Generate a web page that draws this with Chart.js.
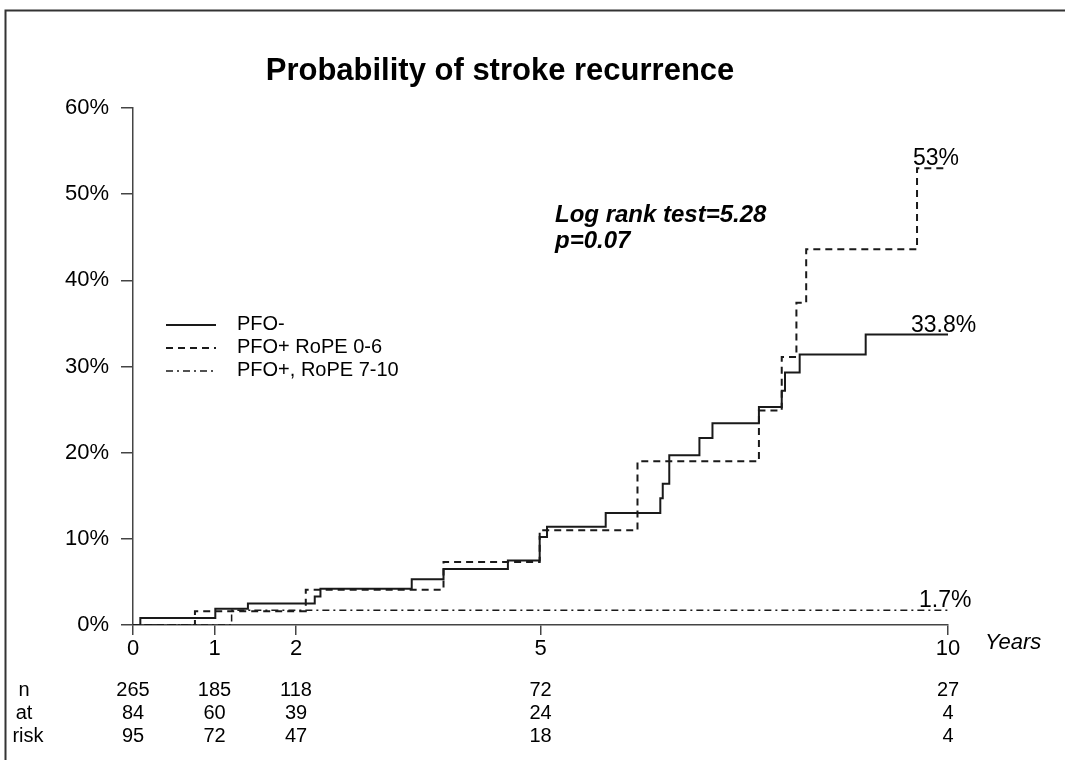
<!DOCTYPE html>
<html>
<head>
<meta charset="utf-8">
<title>Probability of stroke recurrence</title>
<script src="https://cdn.jsdelivr.net/npm/chart.js@4.4.1/dist/chart.umd.min.js"></script>
<style>
  html, body { margin: 0; padding: 0; background: #fff; }
  #wrap { width: 1065px; height: 760px; }
</style>
</head>
<body>
<div id="wrap"><canvas id="chart" width="1065" height="760"></canvas></div>
<script>
// Kaplan-Meier steps: year of each step and cumulative % after it
const pfoNegYears  = [0, 0.09, 1.01, 1.41, 2.23, 2.30, 3.42, 3.81, 4.60, 4.99, 5.08, 5.80, 6.47, 6.50, 6.58, 6.95, 7.11, 7.68, 7.96, 8.00, 8.18, 8.99, 10];
const pfoNegValues = [0, 0.8, 1.9, 2.5, 3.3, 4.2, 5.3, 6.5, 7.5, 10.2, 11.4, 13.0, 14.7, 16.4, 19.7, 21.7, 23.4, 25.3, 27.2, 29.3, 31.4, 33.7, 33.7];

const rope06Years  = [0, 0.76, 2.12, 3.81, 4.99, 6.19, 7.68, 7.96, 8.14, 8.26, 9.62, 10];
const rope06Values = [0, 1.6, 4.1, 7.3, 11.0, 19.0, 24.9, 31.1, 37.4, 43.6, 53.0, 53.0];

const rope710Years  = [0, 1.21, 10];
const rope710Values = [0, 1.7, 1.7];

const seriesNames = ['PFO-', 'PFO+ RoPE 0-6', 'PFO+, RoPE 7-10'];
const endLabels = ['33.8%', '53%', '1.7%'];

const xTicks = [0, 1, 2, 5, 10];
const yTicks = [0, 10, 20, 30, 40, 50, 60];

// numbers at risk, one row per group
const riskRowLabels = ['n', 'at', 'risk'];
const riskYears = [0, 1, 2, 5, 10];
const riskPfoNeg  = [265, 185, 118, 72, 27];
const riskRope06  = [84, 60, 39, 24, 4];
const riskRope710 = [95, 72, 47, 18, 4];

const ink = '#1a1a1a';
const axisColor = '#444';
const font = 'Liberation Sans, Arial, Helvetica, sans-serif';

function toPoints(xs, ys) {
  return xs.map((x, i) => ({ x: x, y: ys[i] }));
}

const extras = {
  id: 'extras',
  afterDraw(chart) {
    const ctx = chart.ctx;
    const xs = chart.scales.x;
    const ys = chart.scales.y;
    ctx.save();

    // frame
    ctx.strokeStyle = '#333';
    ctx.lineWidth = 2;
    ctx.beginPath();
    ctx.moveTo(1065, 10.5);
    ctx.lineTo(5.5, 10.5);
    ctx.lineTo(5.5, 760);
    ctx.stroke();

    // title
    ctx.fillStyle = '#000';
    ctx.textAlign = 'center';
    ctx.textBaseline = 'middle';
    ctx.font = 'bold 31px ' + font;
    ctx.fillText('Probability of stroke recurrence', 500, 71);

    // log rank annotation
    ctx.textAlign = 'left';
    ctx.font = 'italic bold 24px ' + font;
    ctx.fillText('Log rank test=5.28', 555, 215);
    ctx.fillText('p=0.07', 555, 241);

    // legend
    ctx.font = '20px ' + font;
    chart.data.datasets.forEach((ds, i) => {
      const y = 325 + i * 23;
      ctx.strokeStyle = ds.borderColor;
      ctx.lineWidth = ds.borderWidth;
      ctx.setLineDash(ds.borderDash || []);
      ctx.beginPath();
      ctx.moveTo(166, y);
      ctx.lineTo(216, y);
      ctx.stroke();
      ctx.setLineDash([]);
      ctx.fillStyle = '#000';
      ctx.fillText(ds.label, 237, y - 1);
    });

    // end-of-curve labels
    ctx.font = '23px ' + font;
    ctx.textAlign = 'left';
    ctx.textBaseline = 'alphabetic';
    const endY = [pfoNegValues, rope06Values, rope710Values].map(v => v[v.length - 1]);
    const endX = [911, 913, 919];
    endLabels.forEach((t, i) => {
      ctx.fillText(t, endX[i], ys.getPixelForValue(endY[i]) - 3);
    });

    // x axis title
    ctx.font = 'italic 22px ' + font;
    ctx.textBaseline = 'middle';
    ctx.fillText('Years', 985, 643);

    // numbers at risk
    ctx.font = '20px ' + font;
    ctx.textAlign = 'center';
    const rows = [riskPfoNeg, riskRope06, riskRope710];
    rows.forEach((row, r) => {
      const y = 690 + r * 23;
      ctx.fillText(riskRowLabels[r], r === 2 ? 28 : 24, y);
      row.forEach((v, i) => {
        ctx.fillText(String(v), xs.getPixelForValue(riskYears[i]), y);
      });
    });

    ctx.restore();
  }
};

const ctx = document.getElementById('chart').getContext('2d');
new Chart(ctx, {
  type: 'line',
  data: {
    datasets: [
      {
        label: seriesNames[0],
        data: toPoints(pfoNegYears, pfoNegValues),
        borderColor: ink, borderWidth: 2, stepped: 'before'
      },
      {
        label: seriesNames[1],
        data: toPoints(rope06Years, rope06Values),
        borderColor: ink, borderWidth: 2, borderDash: [7, 5], stepped: 'before'
      },
      {
        label: seriesNames[2],
        data: toPoints(rope710Years, rope710Values),
        borderColor: ink, borderWidth: 1.5, borderDash: [7, 4, 2, 4], stepped: 'before'
      }
    ]
  },
  options: {
    responsive: false,
    animation: false,
    devicePixelRatio: 1,
    layout: { padding: { left: 0, right: 117, top: 108, bottom: 0 } },
    elements: { point: { radius: 0 } },
    plugins: {
      legend: { display: false },
      title: { display: false },
      tooltip: { enabled: false }
    },
    scales: {
      x: {
        type: 'linear',
        min: 0,
        max: 10,
        afterBuildTicks: s => { s.ticks = xTicks.map(v => ({ value: v })); },
        afterFit: s => { s.height = 135; },
        grid: { drawOnChartArea: false, drawTicks: true, tickLength: 10, color: axisColor, lineWidth: 1.5 },
        border: { display: true, color: axisColor, width: 1.5 },
        ticks: { color: '#000', font: { family: font, size: 22 }, padding: 1, maxRotation: 0, autoSkip: false }
      },
      y: {
        type: 'linear',
        min: 0,
        max: 60,
        afterBuildTicks: s => { s.ticks = yTicks.map(v => ({ value: v })); },
        afterFit: s => { s.width = 133; },
        grid: { drawOnChartArea: false, drawTicks: true, tickLength: 12, color: axisColor, lineWidth: 1.5 },
        border: { display: true, color: axisColor, width: 1.5 },
        ticks: { color: '#000', font: { family: font, size: 22 }, padding: 12, callback: v => v + '%' }
      }
    }
  },
  plugins: [extras]
});
</script>
</body>
</html>
